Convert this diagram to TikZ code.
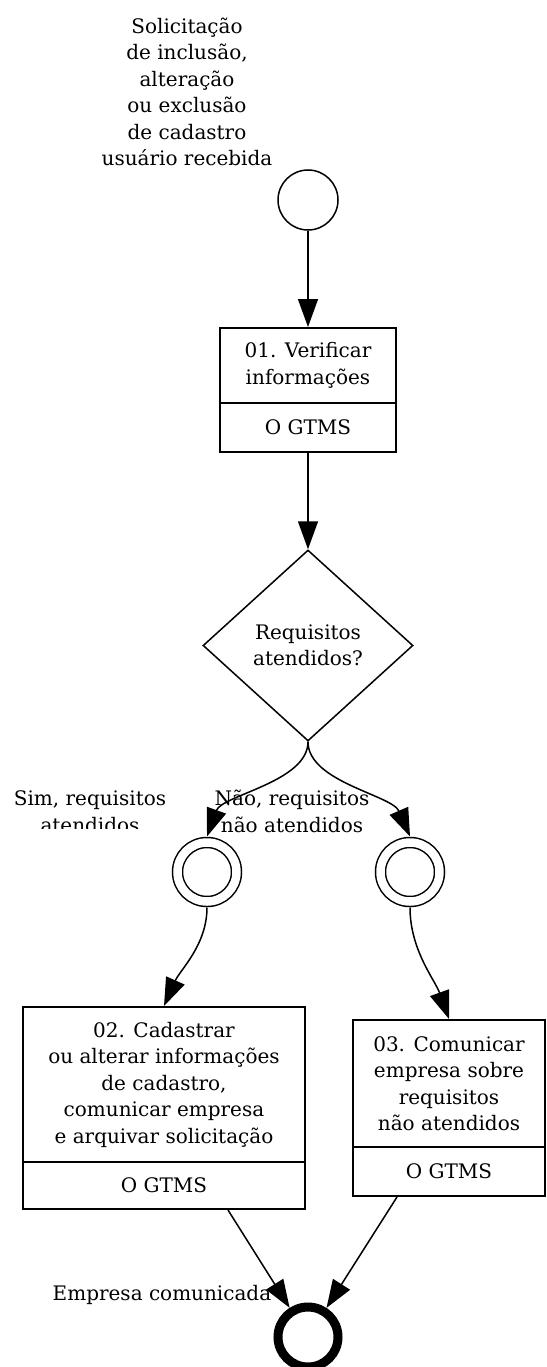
\documentclass[tikz,border=0pt]{standalone}
\usepackage{fontspec}
\setmainfont{DejaVu Serif}
\usetikzlibrary{arrows.meta,shapes.geometric,calc}
\begin{document}
\begin{tikzpicture}[x=1pt,y=-1pt,
  every node/.style={font=\fontsize{20}{26.5}\selectfont, align=center, inner sep=0pt},
  arr/.style={draw=black, line width=1.5pt, -{Triangle[length=28pt,width=20pt]}},
  taskbox/.style={draw, rectangle, line width=2pt},
  startev/.style={circle, draw, line width=1.5pt, minimum size=60pt},
  interev/.style={circle, draw, line width=1.5pt, double, double distance=8.5pt, minimum size=59pt, outer sep=6pt},
  endev/.style={circle, draw, line width=9pt, minimum size=60pt},
  gate/.style={diamond, draw, line width=1.5pt, minimum width=210pt, minimum height=191pt}
]
\useasboundingbox (0,0) rectangle (546,1367);

% labels
\node (lstart) at (187,92) {Solicitação\\de inclusão,\\alteração\\ou exclusão\\de cadastro\\usuário recebida};
\begin{scope}
  \clip (0,770) rectangle (200,828);
  \node (lsim) at (90,811.5) {Sim, requisitos\\atendidos};
\end{scope}
\node (lnao) at (292,811.5) {Não, requisitos\\não atendidos};
\node (lend) at (162,1295) {Empresa comunicada};

% events
\node[startev] (start) at (308,200) {};
\node[interev] (g1) at (207,872) {};
\node[interev] (g2) at (410,872) {};
\node[endev] (end) at (308,1337) {};

% tasks
\node[taskbox, minimum width=176pt, minimum height=75pt] (b1) at (308,365.5) {01. Verificar\\informações};
\node[taskbox, minimum width=176pt, minimum height=49pt] (b1r) at (308,427.5) {O GTMS};
\node[taskbox, minimum width=282pt, minimum height=155pt] (b2) at (164,1084.5) {02. Cadastrar\\ou alterar informações\\de cadastro,\\comunicar empresa\\e arquivar solicitação};
\node[taskbox, minimum width=282pt, minimum height=47pt] (b2r) at (164,1185.5) {O GTMS};
\node[taskbox, minimum width=192pt, minimum height=127pt] (b3) at (449,1083.5) {03. Comunicar\\empresa sobre\\requisitos\\não atendidos};
\node[taskbox, minimum width=192pt, minimum height=49pt] (b3r) at (449,1171.5) {O GTMS};

% gateway
\node[gate] (d) at (308,645.5) {Requisitos\\atendidos?};

% connectors
\draw[arr] (start) -- (b1.north);
\draw[arr] (b1r.south) -- (d.north);
\draw[arr] (d.south) .. controls (308,782) and (222,795) .. (g1.north);
\draw[arr] (d.south) .. controls (308,782) and (392,795) .. (g2.north);
\draw[arr] (g1.south) .. controls (207,945) and (180,970) .. (b2.north);
\draw[arr] (g2.south) .. controls (410,950) and (435,980) .. (b3.north);
\draw[arr] ($(b2r.south)+(64,0)$) -- (end);
\draw[arr] ($(b3r.south)+(-52,0)$) -- (end);
\end{tikzpicture}
\end{document}
